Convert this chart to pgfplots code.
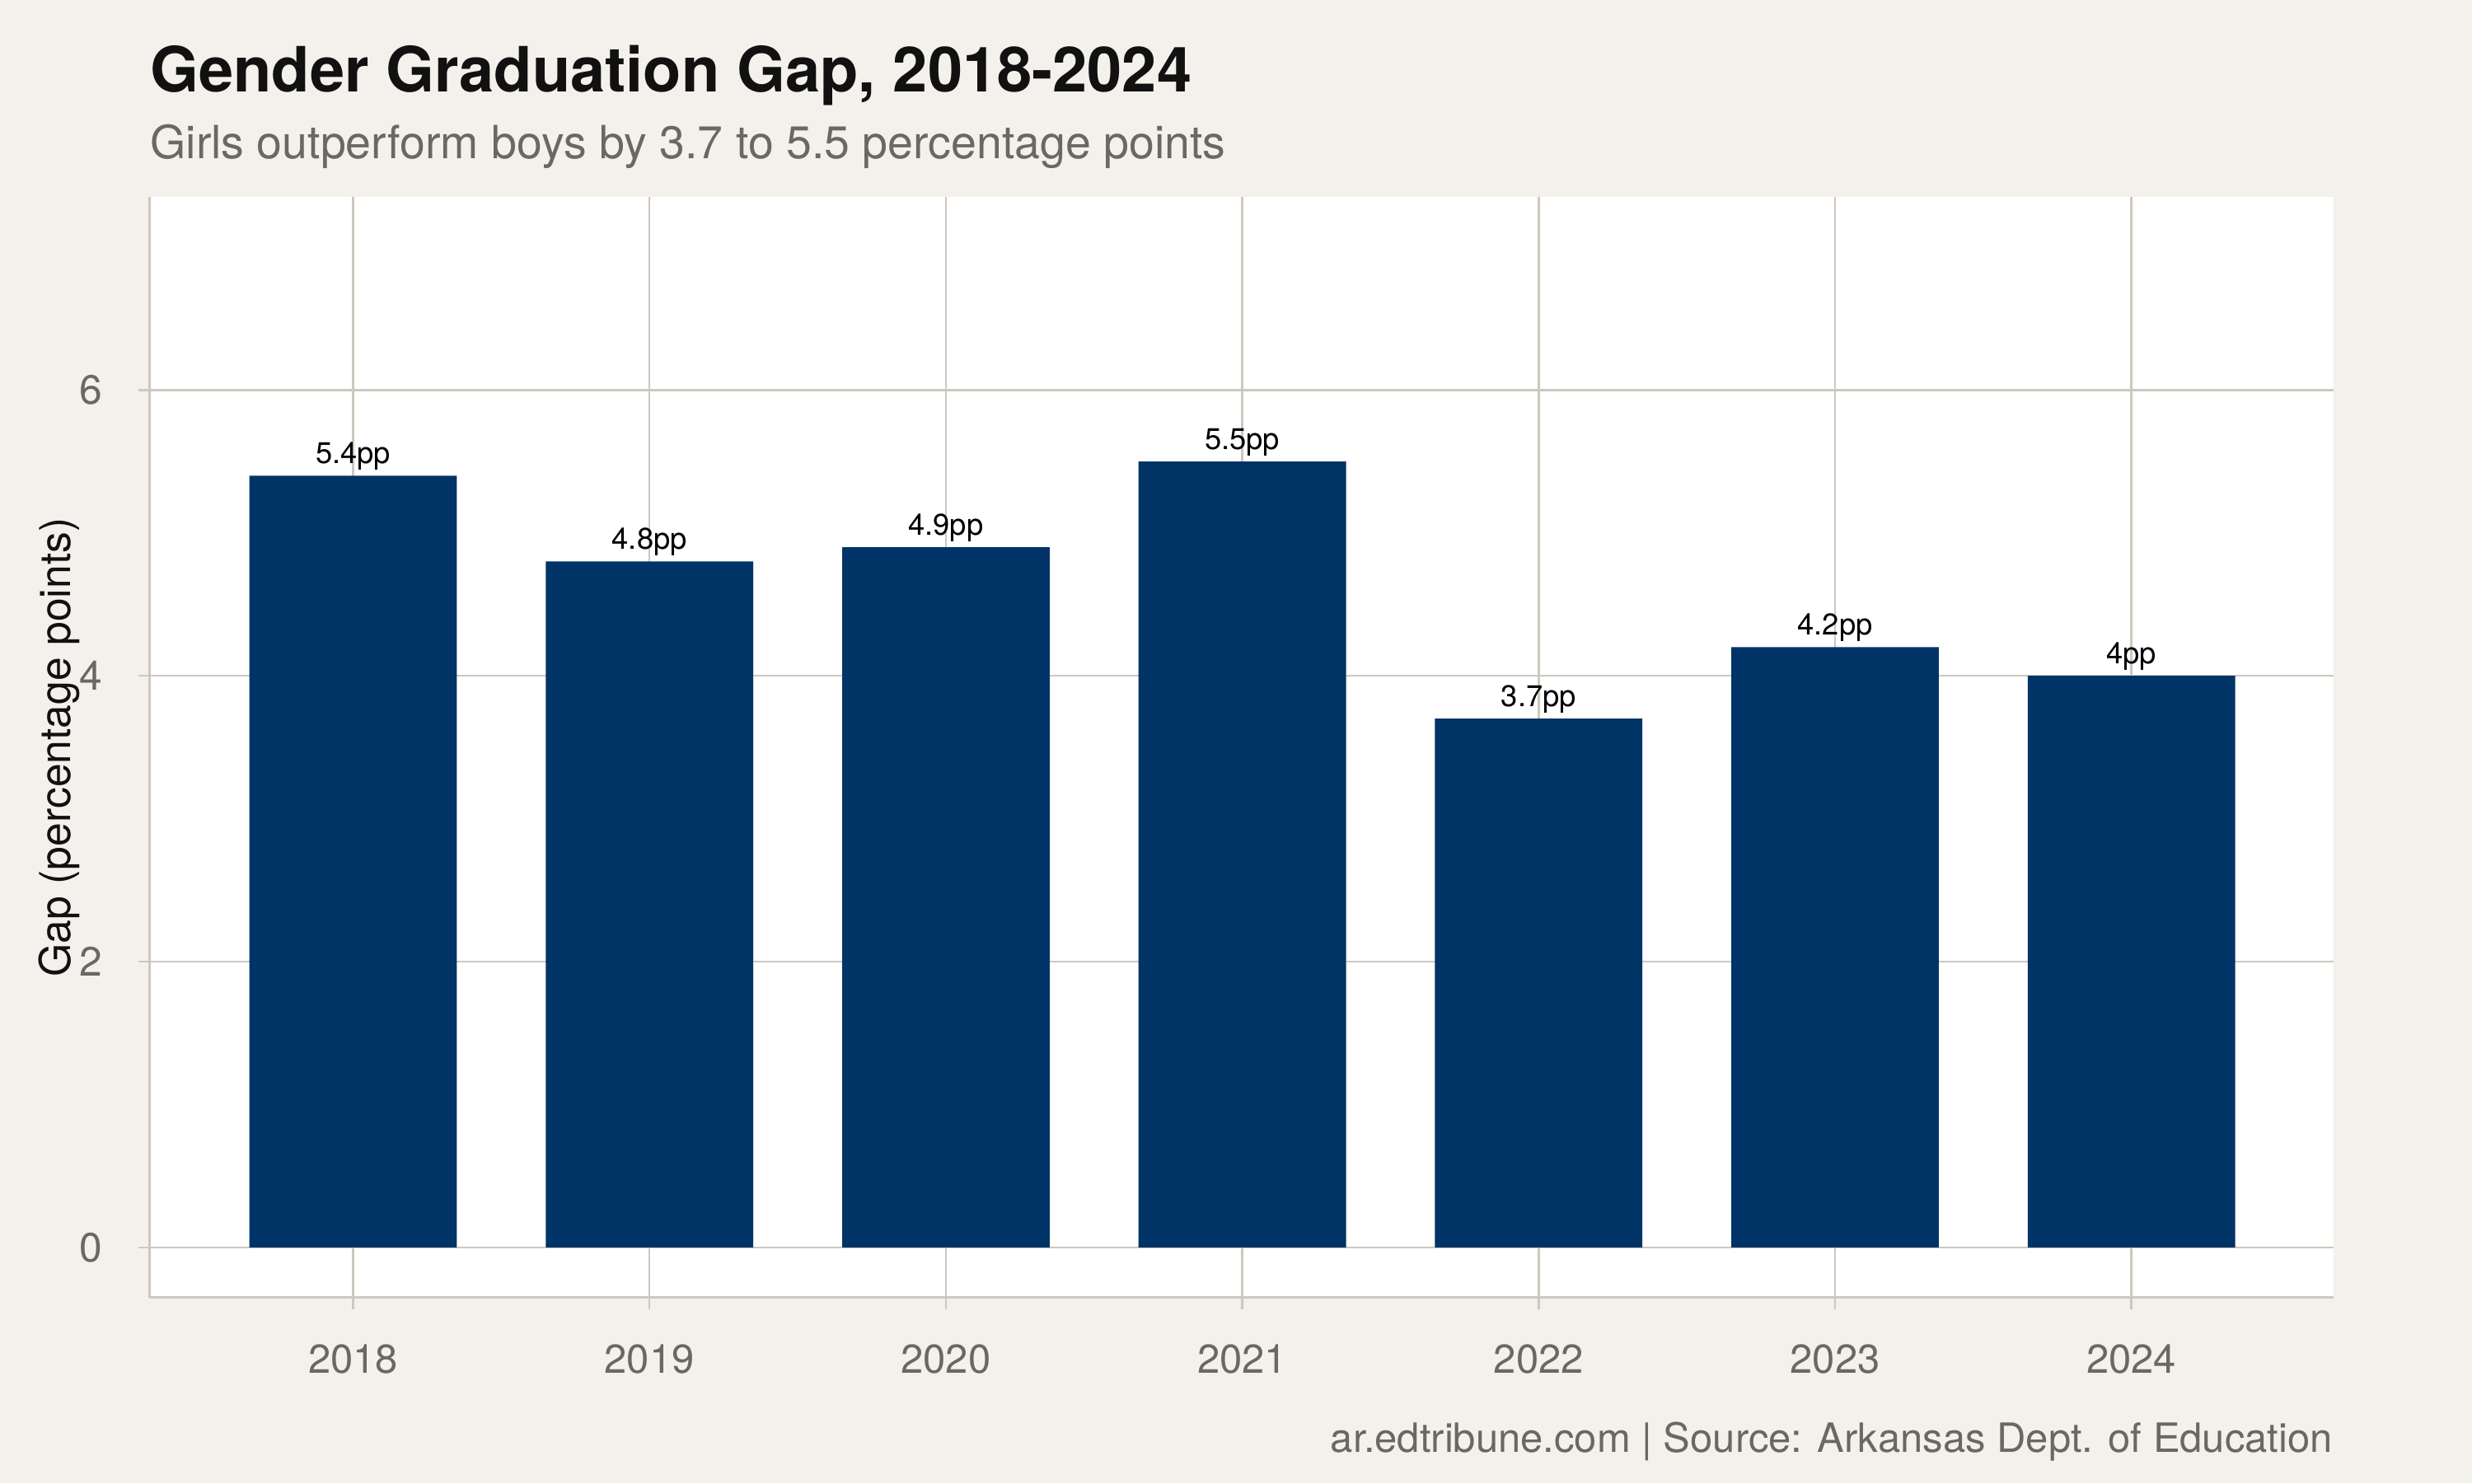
\documentclass[border=0pt]{standalone}
\usepackage{fontspec}
\setmainfont{TeX Gyre Heros}
\usepackage{pgfplots}
\pgfplotsset{compat=1.18}
\usepackage{pgfplotstable}

\definecolor{bg}{HTML}{F4F1EC}
\definecolor{barblue}{HTML}{003366}
\definecolor{gridc}{HTML}{CDC8BE}
\definecolor{txtgrey}{HTML}{6B6761}
\definecolor{titlec}{HTML}{111111}

% Gender graduation gap (girls minus boys), percentage points
\pgfplotstableread{
x y label
0 5.4 5.4pp
1 4.8 4.8pp
2 4.9 4.9pp
3 5.5 5.5pp
4 3.7 3.7pp
5 4.2 4.2pp
6 4.0 4pp
}\gapdata

\begin{document}
\begin{tikzpicture}
\useasboundingbox (0,0) rectangle (784pt,470.5pt);
\fill[bg] (0,0) rectangle (784pt,470.5pt);
\begin{axis}[
  at={(47.5pt,59pt)}, anchor=south west,
  scale only axis, width=692.5pt, height=349pt,
  xmin=-0.686, xmax=6.681, ymin=-0.35, ymax=7.35,
  axis background/.style={fill=white},
  axis x line*=bottom, axis y line*=left,
  axis line style={draw=gridc, line width=0.75pt, -},
  xtick=data,
  xticklabels={2018,2019,2020,2021,2022,2023,2024},
  ytick={0,2,4,6},
  grid=major,
  major grid style={draw=gridc, line width=0.65pt},
  tick align=outside, major tick length=3.7pt,
  tick style={draw=gridc, line width=0.65pt},
  /pgf/number format/assume math mode=true,
  xticklabel style={font=\fontsize{12.8}{14}\selectfont, text=txtgrey,
    anchor=base, yshift=-20.4pt},
  yticklabel style={font=\fontsize{13}{15}\selectfont, text=txtgrey,
    anchor=east, inner sep=0pt, xshift=-11.2pt},
  ylabel={Gap (percentage points)},
  every axis y label/.style={at={(axis description cs:0,0.5)},
    anchor=center, rotate=90, yshift=28.6pt,
    font=\fontsize{13.5}{15}\selectfont, text=titlec},
  ybar, bar width=0.7,
  nodes near coords,
  point meta=explicit symbolic,
  nodes near coords style={font=\fontsize{9.5}{11}\selectfont, text=black,
    anchor=base, inner sep=0pt, yshift=3.9pt},
]
\addplot[fill=barblue, draw=none] table[x=x, y=y, meta=label] {\gapdata};
\end{axis}

\node[anchor=base west, inner sep=0pt, text=titlec,
  font=\bfseries\fontsize{19.8}{22}\selectfont] at (47.5pt,441.25pt)
  {Gender Graduation Gap, 2018-2024};
\node[anchor=base west, inner sep=0pt, text=txtgrey,
  font=\fontsize{14.5}{17}\selectfont] at (47.5pt,420.25pt)
  {Girls outperform boys by 3.7 to 5.5 percentage points};
\node[anchor=base east, inner sep=0pt, text=txtgrey,
  font=\fontsize{12.8}{15}\selectfont] at (740pt,10pt)
  {ar.edtribune.com | Source: Arkansas Dept. of Education};
\end{tikzpicture}
\end{document}
